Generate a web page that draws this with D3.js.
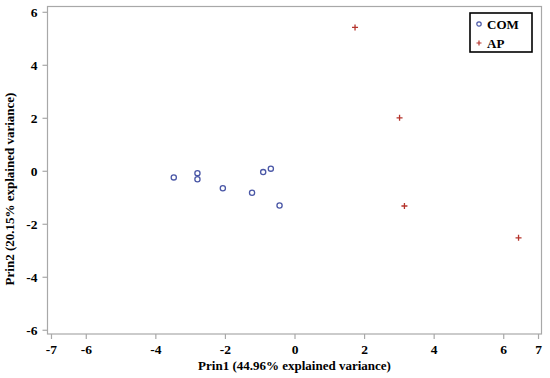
<!DOCTYPE html>
<html>
<head>
<meta charset="utf-8">
<script src="https://cdn.jsdelivr.net/npm/d3@7"></script>
<style>
  body { margin: 0; background: #fff; }
  svg text { font-family: "Liberation Serif", "Times New Roman", serif; font-weight: bold; fill: #000; }
</style>
</head>
<body>
<svg width="550" height="378"></svg>
<script>
// PCA scores
let comX = [-3.47, -2.79, -2.79, -2.06, -1.22, -0.90, -0.68, -0.43]
let comY = [-0.25, -0.09, -0.32, -0.66, -0.83, -0.05, 0.08, -1.31]
let apX = [1.74, 3.02, 3.16, 6.44]
let apY = [5.41, 2.0, -1.33, -2.53]
let xTicks = [-7, -6, -4, -2, 0, 2, 4, 6, 7]
let yTicks = [-6, -4, -2, 0, 2, 4, 6]
let groups = ['COM', 'AP']
let xTitle = 'Prin1 (44.96% explained variance)'
let yTitle = 'Prin2 (20.15% explained variance)'

let svg = d3.select('svg')
let plotL = 47.5, plotR = 541.5, plotT = 6.5, plotB = 334

let x = d3.scaleLinear().domain([-7.1, 7.1]).range([plotL, plotR])
let y = d3.scaleLinear().domain([-6.16, 6.2]).range([plotB, plotT])

let blue = '#4a57a6'
let red = '#b5342c'
let grey = '#a8a8a8'

// frame
svg.append('rect')
  .attr('x', plotL).attr('y', plotT)
  .attr('width', plotR - plotL).attr('height', plotB - plotT)
  .attr('fill', 'none').attr('stroke', grey).attr('stroke-width', 1.2)

let gx = svg.append('g')
  .attr('transform', 'translate(0,' + plotB + ')')
  .call(d3.axisBottom(x).tickValues(xTicks).tickSize(5).tickPadding(5))
let gy = svg.append('g')
  .attr('transform', 'translate(' + plotL + ',0)')
  .call(d3.axisLeft(y).tickValues(yTicks).tickSize(5).tickPadding(5))

for (let g of [gx, gy]) {
  g.attr('font-family', null).attr('font-size', null)
  g.select('.domain').remove()
  g.selectAll('line').attr('stroke', grey).attr('stroke-width', 1.2)
  g.selectAll('text')
    .style('font-size', '13.5px').style('font-weight', 'bold').style('fill', '#000')
    .text(d => d < 0 ? '-' + (-d) : d)
}

// axis titles
svg.append('text')
  .attr('x', (plotL + plotR) / 2)
  .attr('y', 370)
  .attr('text-anchor', 'middle')
  .attr('font-size', 13)
  .text(xTitle)
svg.append('text')
  .attr('transform', 'translate(14,189) rotate(-90)')
  .attr('text-anchor', 'middle')
  .attr('font-size', 13)
  .text(yTitle)

// COM circles
svg.append('g').selectAll('circle')
  .data(comX.map((v, i) => [v, comY[i]]))
  .enter()
  .append('circle')
  .attr('cx', d => x(d[0]))
  .attr('cy', d => y(d[1]))
  .attr('r', 2.6)
  .attr('fill', 'none')
  .attr('stroke', blue)
  .attr('stroke-width', 1.3)

// AP plus signs
svg.append('g').selectAll('path')
  .data(apX.map((v, i) => [v, apY[i]]))
  .enter()
  .append('path')
  .attr('transform', d => 'translate(' + x(d[0]) + ',' + y(d[1]) + ')')
  .attr('d', 'M-3,0H3M0,-3V3')
  .attr('stroke', red)
  .attr('stroke-width', 1.3)
  .attr('fill', 'none')

// legend
let lg = svg.append('g').attr('transform', 'translate(470,13)')
lg.append('rect')
  .attr('width', 62).attr('height', 39)
  .attr('fill', '#fff').attr('stroke', '#000').attr('stroke-width', 1.6)
lg.append('circle')
  .attr('cx', 9).attr('cy', 11).attr('r', 2.2)
  .attr('fill', 'none').attr('stroke', blue).attr('stroke-width', 1.2)
lg.append('path')
  .attr('transform', 'translate(9,30)')
  .attr('d', 'M-2.5,0H2.5M0,-2.5V2.5')
  .attr('stroke', red).attr('stroke-width', 1.2)
lg.selectAll('text.leg')
  .data(groups)
  .enter()
  .append('text')
  .attr('class', 'leg')
  .attr('x', 17)
  .attr('y', (d, i) => 15.5 + i * 19)
  .attr('font-size', 13)
  .text(d => d)
</script>
</body>
</html>
